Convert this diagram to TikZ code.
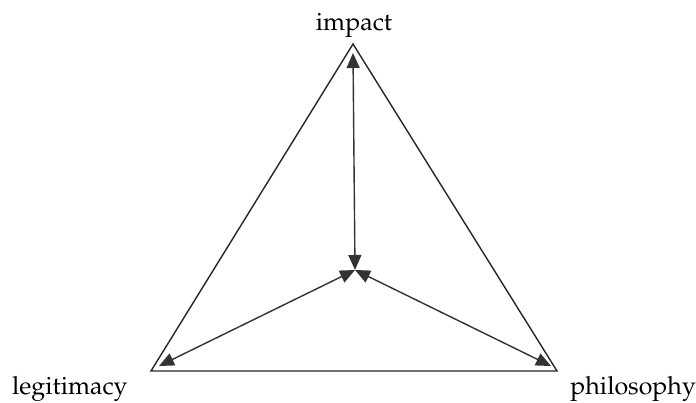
\documentclass[tikz,border=0pt]{standalone}
\IfFileExists{mathpazo.sty}{\usepackage[T1]{fontenc}\usepackage{mathpazo}}{\usepackage{fontspec}\setmainfont{Liberation Serif}}
\usetikzlibrary{arrows.meta}
\begin{document}
\begin{tikzpicture}[x=0.5pt, y=-0.5pt, >={Triangle[length=7.5pt,width=6.5pt]},
    every node/.style={font=\fontsize{12.5}{15}\selectfont}]
    \useasboundingbox (0,0) rectangle (696,402);
    % corners of the triangle
    \coordinate (impact) at (353,44);
    \coordinate (legit) at (151,371);
    \coordinate (philo) at (557,371);
    \coordinate (mid) at (355,270);
    % inner ends of the arrows
    \coordinate (impactEnd) at (353,53);
    \coordinate (legitEnd) at (159,366);
    \coordinate (philoEnd) at (551,366);

    \draw[line width=0.7pt, black!85] (impact) -- (legit) -- (philo) -- cycle;

    \draw[<->, line width=0.7pt, black!80] (impactEnd) -- (mid);
    \draw[<->, line width=0.7pt, black!80] (legitEnd) -- (mid);
    \draw[<->, line width=0.7pt, black!80] (philoEnd) -- (mid);

    \node[anchor=base, inner sep=0pt] (impactLabel) at (354,30) {impact};
    \node[anchor=base east, inner sep=0pt] (legitLabel) at (128,394) {legitimacy};
    \node[anchor=base west, inner sep=0pt] (philoLabel) at (570,394) {philosophy};
\end{tikzpicture}
\end{document}
